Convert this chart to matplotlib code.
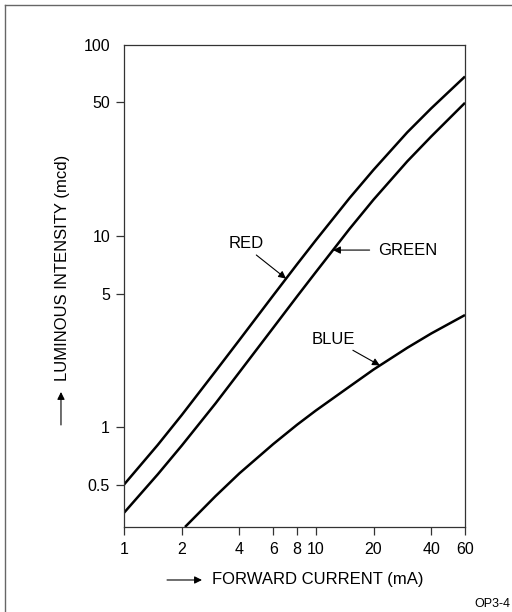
import numpy as np
import matplotlib
matplotlib.use("Agg")
import matplotlib.pyplot as plt
from matplotlib.lines import Line2D
from matplotlib.ticker import FixedLocator, FixedFormatter, NullLocator

plt.rcParams['font.family'] = ['Liberation Sans', 'DejaVu Sans']

# Forward current (mA) and luminous intensity (mcd) per LED colour
current_ma = [1, 1.5, 2, 3, 4, 6, 8, 10, 15, 20, 30, 40, 60]
red_mcd = [0.50, 0.807, 1.156, 1.96, 2.86, 4.89, 7.13, 9.5, 15.8, 22.2, 34.9, 46.6, 68.4]
green_mcd = [0.356, 0.566, 0.80, 1.33, 1.94, 3.31, 4.84, 6.47, 10.9, 15.5, 24.6, 33.2, 49.8]
blue_current_ma = [2.08, 3, 4, 6, 8, 10, 15, 20, 30, 40, 60]
blue_mcd = [0.30, 0.435, 0.573, 0.815, 1.03, 1.22, 1.63, 2.0, 2.60, 3.09, 3.86]

x_ticks = [1, 2, 4, 6, 8, 10, 20, 40, 60]
x_tick_labels = ["1", "2", "4", "6", "8", "10", "20", "40", "60"]
y_ticks = [0.5, 1, 5, 10, 50, 100]
y_tick_labels = ["0.5", "1", "5", "10", "50", "100"]


def on_curve(xs, ys, x):
    """Value of a log-log curve at current x."""
    return 10 ** np.interp(np.log10(x), np.log10(xs), np.log10(ys))


fig = plt.figure(figsize=(5.12, 6.12), dpi=100)
ax = fig.add_axes([0.2422, 0.1389, 0.6660, 0.7876])

for ys, xs in ((red_mcd, current_ma), (green_mcd, current_ma), (blue_mcd, blue_current_ma)):
    ax.plot(xs, ys, color='black', lw=1.8, solid_capstyle='butt', solid_joinstyle='round')

ax.set_xscale('log')
ax.set_yscale('log')
ax.set_xlim(1, 60)
ax.set_ylim(0.3, 100)

ax.xaxis.set_major_locator(FixedLocator(x_ticks))
ax.xaxis.set_major_formatter(FixedFormatter(x_tick_labels))
ax.xaxis.set_minor_locator(NullLocator())
ax.yaxis.set_major_locator(FixedLocator(y_ticks))
ax.yaxis.set_major_formatter(FixedFormatter(y_tick_labels))
ax.yaxis.set_minor_locator(NullLocator())

ax.tick_params(axis='both', direction='out', length=6, width=0.9,
               color='#333333', labelsize=11.5, labelcolor='black')
ax.tick_params(axis='x', pad=5)
ax.tick_params(axis='y', pad=4)
ax.yaxis.get_major_ticks()[-1].tick1line.set_visible(False)

for sp in ax.spines.values():
    sp.set_color('#333333')
    sp.set_linewidth(0.9)

arrow = dict(arrowstyle='-|>', color='black', lw=0.8, mutation_scale=11,
             shrinkA=1, shrinkB=0)

# Curve labels with pointers
red_x = 7.0
ax.annotate('RED', xy=(red_x, on_curve(current_ma, red_mcd, red_x)),
            xytext=(4.35, 9.1), ha='center', va='center', fontsize=12,
            arrowprops=dict(arrow, relpos=(0.65, 0.0)))

green_x = 12.3
green_y = on_curve(current_ma, green_mcd, green_x)
ax.annotate('GREEN', xy=(green_x, green_y), xytext=(21.1, green_y),
            ha='left', va='center', fontsize=12,
            arrowprops=dict(arrow, relpos=(0.0, 0.5), shrinkA=4))

blue_x = 21.6
ax.annotate('BLUE', xy=(blue_x, on_curve(blue_current_ma, blue_mcd, blue_x)),
            xytext=(12.4, 2.88), ha='center', va='center', fontsize=12,
            arrowprops=dict(arrow, relpos=(0.8, 0.0)))

# Axis titles with leading arrows
fig.text(0.1211, 0.5629, 'LUMINOUS INTENSITY (mcd)', rotation=90,
         ha='center', va='center', fontsize=12)
fig.add_artist(plt.Annotation('', xy=(0.1191, 0.3595), xytext=(0.1191, 0.3056),
                              xycoords='figure fraction', textcoords='figure fraction',
                              arrowprops=dict(arrow, shrinkA=0)))
fig.text(0.4141, 0.0523, 'FORWARD CURRENT (mA)', ha='left', va='center', fontsize=12)
fig.add_artist(plt.Annotation('', xy=(0.3945, 0.0523), xytext=(0.3262, 0.0523),
                              xycoords='figure fraction', textcoords='figure fraction',
                              arrowprops=dict(arrow, shrinkA=0)))

fig.text(0.996, 0.0131, 'OP3-4', ha='right', va='center', fontsize=9)

# Page frame (top and left edges)
fig.add_artist(Line2D([0.0098, 1.0], [0.9918, 0.9918], transform=fig.transFigure,
                      color='#666666', lw=1.0))
fig.add_artist(Line2D([0.0098, 0.0098], [0.0, 0.9918], transform=fig.transFigure,
                      color='#666666', lw=1.0))

fig.savefig('out.png', dpi=100)
